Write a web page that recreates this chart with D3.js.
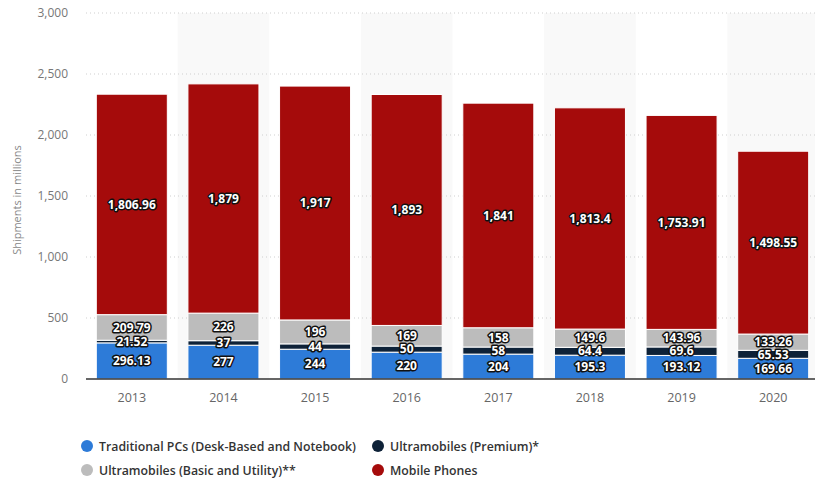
<!DOCTYPE html>
<html>
<head>
<meta charset="utf-8">
<script src="https://cdn.jsdelivr.net/npm/d3@7/dist/d3.min.js"></script>
<style>
  html, body { margin: 0; padding: 0; background: #fff; }
  svg { display: block; font-family: "Open Sans", "DejaVu Sans", sans-serif; }
</style>
</head>
<body>
<svg id="chart" width="815" height="484"></svg>
<script>
// Device shipments worldwide, 2013–2020 (millions)
const years = ["2013", "2014", "2015", "2016", "2017", "2018", "2019", "2020"];
const traditionalPCs = [296.13, 277, 244, 220, 204, 195.3, 193.12, 169.66];
const ultraPremium   = [21.52, 37, 44, 50, 58, 64.4, 69.6, 65.53];
const ultraBasic     = [209.79, 226, 196, 169, 158, 149.6, 143.96, 133.26];
const mobilePhones   = [1806.96, 1879, 1917, 1893, 1841, 1813.4, 1753.91, 1498.55];
const yTicks = [0, 500, 1000, 1500, 2000, 2500, 3000];

const seriesNames = [
  "Traditional PCs (Desk-Based and Notebook)",
  "Ultramobiles (Premium)*",
  "Ultramobiles (Basic and Utility)**",
  "Mobile Phones"
];
const seriesColors = ["#2d7bd8", "#0e2238", "#bcbcbc", "#a50b0b"];
const seriesValues = [traditionalPCs, ultraPremium, ultraBasic, mobilePhones];

const svg = d3.select("#chart");
const plot = { left: 86, right: 819, top: 13, bottom: 379 };

const x = d3.scaleBand().domain(years).range([plot.left, plot.right]).paddingInner(0.225).paddingOuter(0.1125);
const band = d3.scaleBand().domain(years).range([plot.left, plot.right]);
const y = d3.scaleLinear().domain([0, 3000]).range([plot.bottom, plot.top]);

// alternating column shading
svg.append("g").selectAll("rect")
  .data(years.filter((d, i) => i % 2 === 1))
  .join("rect")
  .attr("x", d => band(d))
  .attr("y", plot.top)
  .attr("width", band.bandwidth())
  .attr("height", plot.bottom - plot.top)
  .attr("fill", "#f9f9f9");

// gridlines
svg.append("g").selectAll("line")
  .data(yTicks.filter(t => t > 0))
  .join("line")
  .attr("x1", plot.left).attr("x2", 815)
  .attr("y1", d => y(d)).attr("y2", d => y(d))
  .attr("stroke", "#cfcfcf")
  .attr("stroke-dasharray", "1,3");

// y tick labels
svg.append("g").selectAll("text")
  .data(yTicks)
  .join("text")
  .attr("x", 68)
  .attr("y", d => y(d) + 4)
  .attr("text-anchor", "end")
  .attr("font-size", 12)
  .attr("fill", "#777")
  .text(d => d3.format(",")(d));

// y axis title
svg.append("text")
  .attr("transform", "translate(21,200) rotate(-90)")
  .attr("text-anchor", "middle")
  .attr("font-size", 11)
  .attr("fill", "#888")
  .text("Shipments in millions");

// stacked data
const rows = years.map((yr, i) => {
  const r = { year: yr };
  seriesNames.forEach((s, k) => { r[s] = seriesValues[k][i]; });
  return r;
});
const stacked = d3.stack().keys(seriesNames)(rows);

const layers = svg.append("g").selectAll("g")
  .data(stacked)
  .join("g")
  .attr("fill", (d, k) => seriesColors[k]);

layers.selectAll("rect")
  .data(d => d)
  .join("rect")
  .attr("x", d => x(d.data.year))
  .attr("y", d => y(d[1]))
  .attr("width", x.bandwidth())
  .attr("height", d => y(d[0]) - y(d[1]))
  .attr("stroke", "#fff")
  .attr("stroke-width", 1);

// x axis baseline
svg.append("line")
  .attr("x1", plot.left).attr("x2", 815)
  .attr("y1", plot.bottom).attr("y2", plot.bottom)
  .attr("stroke", "#333").attr("stroke-width", 1.5);

// x tick labels
svg.append("g").selectAll("text")
  .data(years)
  .join("text")
  .attr("x", d => band(d) + band.bandwidth() / 2)
  .attr("y", 402)
  .attr("text-anchor", "middle")
  .attr("font-size", 12.5)
  .attr("fill", "#666")
  .text(d => d);

// value labels
const fmt = v => d3.format(",")(v);
const labels = svg.append("g");
stacked.forEach((layer, k) => {
  labels.selectAll(null)
    .data(layer)
    .join("text")
    .attr("x", d => x(d.data.year) + x.bandwidth() / 2)
    .attr("y", d => y((d[0] + d[1]) / 2) + 4.2)
    .attr("text-anchor", "middle")
    .attr("font-size", 12)
    .attr("font-weight", "bold")
    .attr("fill", "#fff")
    .attr("stroke", "#111")
    .attr("stroke-width", 3)
    .attr("stroke-linejoin", "round")
    .attr("paint-order", "stroke")
    .text(d => fmt(d.data[layer.key]));
});

// legend
const legendPos = [
  { x: 87, y: 446 }, { x: 378, y: 446 },
  { x: 87, y: 470 }, { x: 378, y: 470 }
];
const legend = svg.append("g").selectAll("g")
  .data(seriesNames)
  .join("g")
  .attr("transform", (d, i) => `translate(${legendPos[i].x},${legendPos[i].y})`);
legend.append("circle")
  .attr("r", 6)
  .attr("fill", (d, i) => seriesColors[i]);
legend.append("text")
  .attr("x", 12)
  .attr("y", 4.5)
  .attr("font-size", 12.3)
  .attr("font-weight", 600)
  .attr("fill", "#333")
  .text(d => d);
</script>
</body>
</html>
